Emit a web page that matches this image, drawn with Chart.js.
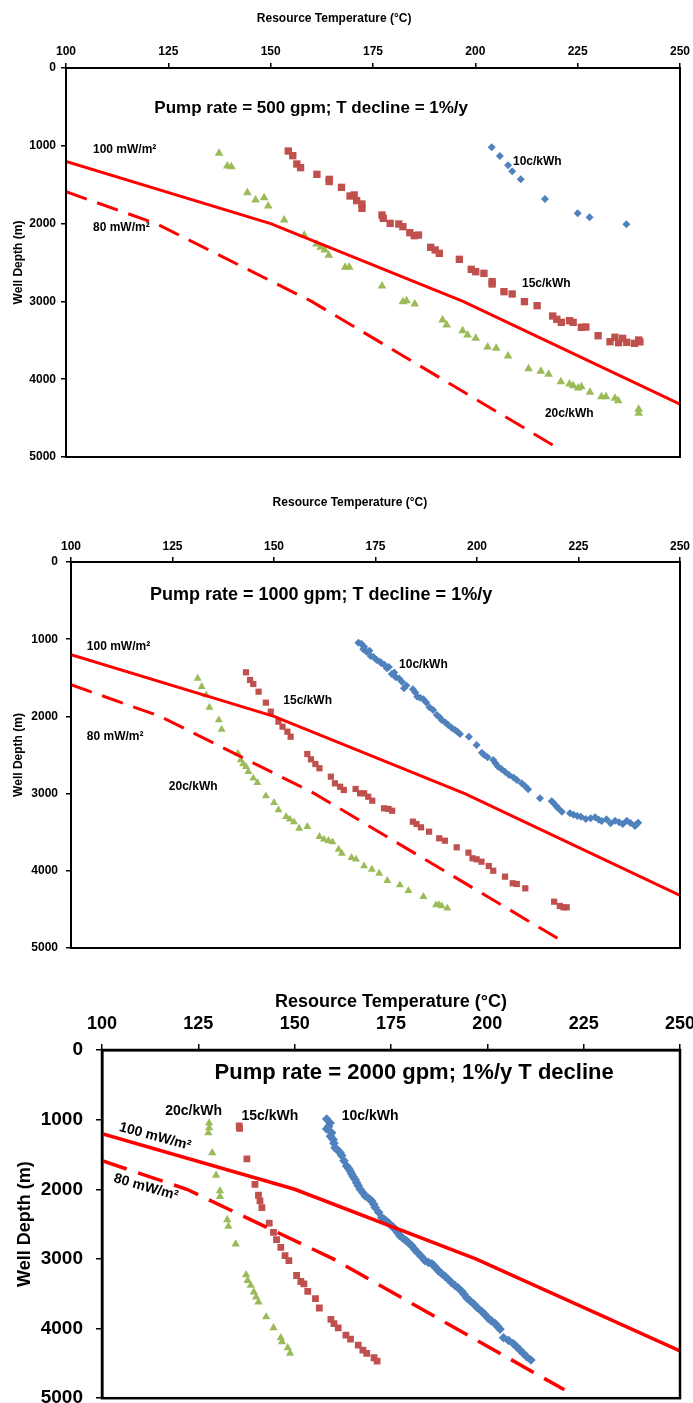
<!DOCTYPE html>
<html lang="en">
<head>
    <meta charset="UTF-8">
    <title>Well depth vs resource temperature</title>
    <script src="https://cdn.jsdelivr.net/npm/chart.js"></script>
    <style>
        body { margin: 0; background: #fff; }
        .panel { position: absolute; left: 0; width: 693px; }
    </style>
</head>
<body>
    <div class="panel" style="top:0;height:470px"><canvas id="chart500"></canvas></div>
    <div class="panel" style="top:478px;height:480px"><canvas id="chart1000"></canvas></div>
    <div class="panel" style="top:975px;height:428px"><canvas id="chart2000"></canvas></div>

    <script>
        // axes
        const tempTicks = [100, 125, 150, 175, 200, 225, 250];
        const depthTicks = [0, 1000, 2000, 3000, 4000, 5000];

        // heat flow geotherms [temperature C, depth m]
        const geotherm100 = [[100, 1200], [150, 2000], [197, 3000], [250, 4320]];
        const geotherm80 = [[100, 1590], [122, 2000], [160, 3000], [220, 4880]];

        // 500 gpm
        const gpm500_10c = [[204.0,1020],[206.0,1131],[208.0,1251],[209.0,1328],[211.1,1431],[217.0,1684],[225.0,1868],[227.9,1919],[236.9,2009]];
        const gpm500_15c = [[154.3,1067],[155.4,1127],[156.4,1234],[157.3,1281],[161.3,1367],[164.3,1431],[164.3,1460],[167.3,1534],[169.4,1645],[170.4,1632],[171.0,1705],[172.3,1748],[172.3,1804],[177.2,1890],[177.5,1932],[179.2,1997],[181.3,2005],[182.3,2040],[184.0,2117],[185.1,2155],[186.1,2147],[189.1,2305],[190.2,2339],[191.2,2382],[196.1,2459],[199.0,2588],[200.1,2618],[202.1,2639],[204.1,2746],[204.1,2776],[207.0,2875],[209.0,2905],[212.0,3003],[215.1,3055],[218.9,3188],[219.9,3230],[221.0,3269],[223.0,3248],[223.9,3269],[225.9,3333],[227.0,3329],[230.0,3441],[232.9,3518],[234.1,3461],[235.0,3531],[236.0,3475],[237.0,3526],[238.9,3539],[239.9,3496],[240.2,3520]];
        const gpm500_20c = [[137.4,1097],[139.4,1260],[140.4,1268],[144.3,1602],[146.3,1697],[148.4,1667],[149.4,1774],[153.3,1954],[158.2,2151],[161.2,2262],[162.2,2305],[163.2,2339],[164.2,2408],[168.2,2562],[169.2,2562],[177.2,2802],[182.3,3003],[183.2,2991],[185.2,3033],[192.0,3239],[193.0,3303],[196.9,3376],[198.1,3432],[200.1,3475],[203.0,3586],[205.1,3603],[208.0,3702],[213.0,3865],[216.0,3899],[217.9,3937],[220.9,4032],[223.0,4062],[223.9,4083],[225.1,4113],[225.9,4096],[228.0,4169],[230.8,4225],[231.9,4225],[234.1,4246],[234.9,4276],[239.9,4387],[239.9,4438]];

        // 1000 gpm
        const gpm1000_10c = [[170.8,1045],[171.5,1060],[172.2,1097],[172.0,1130],[172.8,1162],[173.5,1150],[173.8,1218],[174.5,1230],[175.3,1269],[176.1,1291],[176.5,1312],[177.2,1330],[177.8,1377],[178.3,1360],[179.0,1451],[179.6,1430],[180.0,1494],[180.8,1510],[181.5,1550],[182.0,1636],[182.6,1600],[184.2,1649],[184.8,1690],[185.3,1744],[186.0,1760],[186.8,1779],[187.5,1820],[188.3,1883],[189.2,1917],[190.1,1982],[190.8,2010],[191.3,2047],[192.2,2080],[192.9,2111],[193.8,2150],[194.6,2176],[195.2,2200],[195.8,2228],[198.0,2263],[199.9,2370],[201.2,2470],[201.8,2500],[202.6,2530],[204.0,2565],[204.6,2610],[205.2,2651],[206.0,2680],[206.9,2716],[207.9,2759],[209.0,2790],[209.8,2824],[211.0,2867],[211.8,2900],[212.6,2945],[215.5,3061],[218.4,3100],[218.8,3118],[219.5,3160],[220.0,3191],[220.9,3234],[222.9,3256],[223.8,3275],[224.7,3290],[225.6,3300],[226.8,3329],[228.0,3320],[229.1,3307],[230.0,3340],[230.7,3355],[231.9,3333],[232.9,3385],[234.0,3351],[235.0,3370],[235.9,3394],[236.9,3351],[237.8,3380],[238.9,3420],[239.7,3377],[239.2,3400]];
        const gpm1000_15c = [[143.1,1429],[144.1,1528],[144.9,1580],[146.2,1680],[148.0,1822],[149.2,1939],[151.1,2068],[152.1,2133],[153.3,2198],[154.1,2263],[158.2,2487],[159.1,2556],[160.2,2617],[161.2,2672],[164.0,2781],[165.0,2867],[166.3,2911],[167.2,2953],[170.1,2940],[171.2,2996],[172.2,2996],[173.2,3040],[174.2,3092],[177.1,3191],[178.2,3199],[179.1,3222],[184.2,3364],[185.1,3394],[186.2,3437],[188.2,3493],[190.7,3579],[192.1,3610],[195.0,3696],[197.9,3765],[198.9,3838],[199.9,3851],[201.1,3882],[202.9,3938],[204.0,3999],[206.9,4076],[208.8,4162],[209.8,4171],[211.9,4227],[219.0,4400],[220.4,4456],[221.3,4473],[222.1,4473]];
        const gpm1000_20c = [[131.2,1507],[132.2,1615],[133.3,1723],[134.1,1883],[136.4,2047],[137.1,2168],[141.1,2479],[141.8,2565],[142.4,2617],[143.1,2651],[143.7,2716],[144.9,2802],[145.9,2859],[148.0,3031],[150.0,3118],[151.1,3212],[153.0,3299],[153.9,3333],[154.9,3368],[156.2,3450],[158.2,3428],[161.2,3558],[162.3,3592],[163.4,3610],[164.4,3627],[165.9,3722],[166.7,3774],[169.1,3830],[170.2,3851],[172.2,3938],[174.1,3981],[175.9,4033],[177.9,4128],[181.0,4184],[183.1,4258],[186.8,4335],[189.9,4443],[190.6,4440],[191.3,4456],[192.7,4486]];

        // 2000 gpm
        const gpm2000_10c = [[158.3,990],[159.2,1048],[158.3,1133],[158.8,1100],[159.6,1190],[159.3,1240],[160.0,1286],[160.2,1340],[160.5,1405],[161.2,1440],[161.8,1476],[162.2,1514],[162.8,1590],[163.5,1667],[164.0,1700],[164.4,1738],[164.8,1780],[165.2,1819],[165.7,1860],[166.1,1905],[166.5,1950],[167.0,2000],[167.7,2050],[168.3,2095],[169.2,2130],[170.0,2167],[170.5,2215],[170.9,2262],[171.8,2330],[172.6,2405],[173.2,2430],[173.7,2452],[174.3,2480],[174.9,2514],[175.5,2540],[176.0,2571],[176.7,2620],[177.3,2667],[178.0,2700],[178.9,2738],[179.6,2770],[180.4,2810],[181.1,2860],[181.8,2905],[182.8,2960],[183.8,3024],[184.7,3050],[185.6,3071],[186.2,3100],[186.9,3143],[187.5,3180],[188.2,3214],[189.0,3250],[189.9,3295],[190.7,3340],[191.6,3381],[192.5,3420],[193.4,3467],[194.0,3510],[194.7,3562],[195.5,3600],[196.4,3643],[197.4,3700],[198.5,3752],[199.4,3800],[200.3,3857],[201.1,3890],[202.0,3929],[202.7,3970],[203.3,4010],[204.2,4133],[205.5,4170],[206.7,4214],[207.6,4260],[208.5,4310],[209.3,4355],[210.2,4405],[211.3,4452]];
        const gpm2000_15c = [[135.6,1090],[135.7,1125],[137.6,1562],[139.7,1929],[140.6,2086],[141.0,2167],[141.5,2262],[143.4,2486],[144.5,2619],[145.3,2724],[146.4,2833],[147.5,2952],[148.5,3024],[150.5,3238],[151.6,3324],[152.4,3357],[153.4,3467],[155.4,3571],[156.4,3705],[159.4,3867],[160.2,3929],[161.3,3990],[163.3,4095],[164.5,4152],[166.5,4238],[167.7,4310],[168.7,4357],[170.6,4419],[171.4,4467]];
        const gpm2000_20c = [[127.8,1048],[127.8,1119],[127.6,1190],[128.6,1476],[129.6,1800],[130.6,2024],[130.6,2105],[132.5,2438],[132.8,2533],[134.7,2786],[137.4,3229],[137.8,3310],[138.6,3381],[139.4,3476],[140.0,3548],[140.6,3619],[142.6,3833],[144.5,3990],[146.4,4133],[146.7,4190],[148.2,4276],[148.8,4357]];

        const FONT = "'Liberation Sans', Arial, sans-serif";
        const BLUE = '#4F81BD', RED = '#C0504D', GREEN = '#9BBB59', LINE = '#FF0000';
        const X_TITLE = 'Resource Temperature (\u00B0C)';

        const toXY = arr => arr.map(p => ({x: p[0], y: p[1]}));

        // plot frame + text notes placed in data coordinates
        const framePlugin = {
            id: 'frame',
            afterDraw(chart, args, opts) {
                const {ctx, chartArea: a, scales: {x, y}} = chart;
                ctx.save();
                ctx.strokeStyle = '#000';
                ctx.lineWidth = opts.lineWidth;
                ctx.strokeRect(a.left, a.top, a.right - a.left, a.bottom - a.top);
                ctx.fillStyle = '#000';
                ctx.textBaseline = 'middle';
                opts.notes.forEach(n => {
                    ctx.save();
                    ctx.font = n.font;
                    ctx.textAlign = n.align || 'left';
                    ctx.translate(x.getPixelForValue(n.t), y.getPixelForValue(n.d));
                    ctx.rotate((n.angle || 0) * Math.PI / 180);
                    ctx.fillText(n.text, 0, 0);
                    ctx.restore();
                });
                ctx.restore();
            }
        };

        function makeChart(id, s) {
            const tickFont = {family: FONT, size: s.tick, weight: 'bold'};
            const titleFont = {family: FONT, size: s.axisTitle, weight: 'bold'};
            const plain = v => String(v);
            const marker = (data, style, color, r) => ({
                data: toXY(data), pointStyle: style, pointRadius: r, pointHoverRadius: r,
                backgroundColor: color, borderWidth: 0, showLine: false, order: 2
            });
            const geo = (data, dash) => ({
                data: toXY(data), showLine: true, pointRadius: 0, borderColor: LINE,
                borderWidth: s.lineW, borderDash: dash, fill: false, order: 1
            });
            new Chart(document.getElementById(id), {
                type: 'scatter',
                data: {
                    datasets: [
                        geo(geotherm100, []),
                        geo(geotherm80, s.dash),
                        marker(s.data[0], 'rectRot', BLUE, s.r[0]),
                        marker(s.data[1], 'rect', RED, s.r[1]),
                        marker(s.data[2], 'triangle', GREEN, s.r[2])
                    ]
                },
                options: {
                    responsive: true,
                    maintainAspectRatio: false,
                    animation: false,
                    layout: {padding: {left: 0, top: 0, right: 13, bottom: s.padBottom}},
                    scales: {
                        x: {
                            type: 'linear', position: 'top',
                            min: tempTicks[0], max: tempTicks[tempTicks.length - 1],
                            ticks: {stepSize: 25, color: '#000', font: tickFont, padding: s.xTickPad, maxRotation: 0, callback: plain},
                            grid: {drawOnChartArea: false, drawTicks: true, tickLength: s.tickLen, color: '#000', lineWidth: 1.5},
                            border: {display: true, color: '#000', width: s.frame},
                            title: {display: !s.ownXTitle, text: X_TITLE, color: '#000', font: titleFont, padding: {top: s.xTitlePad, bottom: 0}},
                            afterFit(sc) { sc.height = s.xHeight; sc.paddingLeft = 0; sc.paddingRight = 0; }
                        },
                        y: {
                            type: 'linear', position: 'left', reverse: true,
                            min: depthTicks[0], max: depthTicks[depthTicks.length - 1],
                            ticks: {stepSize: 1000, color: '#000', font: {family: FONT, size: s.yTick, weight: 'bold'}, padding: s.yTickPad, callback: plain},
                            grid: {drawOnChartArea: false, drawTicks: true, tickLength: s.tickLen, color: '#000', lineWidth: 1.5},
                            border: {display: true, color: '#000', width: s.frame},
                            title: {display: true, text: 'Well Depth (m)', color: '#000', font: titleFont, padding: {top: s.yTitlePad, bottom: 0}},
                            afterFit(sc) { sc.width = s.yWidth; sc.paddingTop = 0; sc.paddingBottom = 0; }
                        }
                    },
                    plugins: {
                        legend: {display: false},
                        tooltip: {enabled: false},
                        frame: {lineWidth: s.frame, notes: s.notes}
                    }
                },
                plugins: [framePlugin]
            });
        }

        const small = 'bold 12px ' + FONT;
        const mid = 'bold 14px ' + FONT;

        // the two upper panels have their axis title set left of centre
        makeChart('chart500', {
            data: [gpm500_10c, gpm500_15c, gpm500_20c], r: [4, 5.2, 5],
            tick: 12, yTick: 12, axisTitle: 12, tickLen: 5, frame: 2, lineW: 3, dash: [22, 11],
            xHeight: 68, yWidth: 66, padBottom: 13, xTickPad: 4, xTitlePad: 12, yTickPad: 5, yTitlePad: 11,
            ownXTitle: true,
            notes: [
                {text: X_TITLE, t: 165.5, d: -630, font: small, align: 'center'},
                {text: 'Pump rate = 500 gpm; T decline = 1%/y', t: 159.9, d: 514, font: 'bold 17px ' + FONT, align: 'center'},
                {text: '100 mW/m\u00B2', t: 106.6, d: 1054, font: small},
                {text: '80 mW/m\u00B2', t: 106.6, d: 2057, font: small},
                {text: '10c/kWh', t: 209.2, d: 1208, font: small},
                {text: '15c/kWh', t: 211.4, d: 2776, font: small},
                {text: '20c/kWh', t: 217.0, d: 4447, font: small}
            ]
        });

        makeChart('chart1000', {
            data: [gpm1000_10c, gpm1000_15c, gpm1000_20c], r: [4, 4.4, 4.6],
            tick: 12, yTick: 12, axisTitle: 12, tickLen: 5, frame: 2, lineW: 3, dash: [22, 11],
            xHeight: 84, yWidth: 71, padBottom: 10, xTickPad: 3, xTitlePad: 18, yTickPad: 8, yTitlePad: 11,
            ownXTitle: true,
            notes: [
                {text: X_TITLE, t: 168.7, d: -764, font: small, align: 'center'},
                {text: 'Pump rate = 1000 gpm; T decline = 1%/y', t: 161.6, d: 427, font: 'bold 18px ' + FONT, align: 'center'},
                {text: '100 mW/m\u00B2', t: 103.9, d: 1101, font: small},
                {text: '80 mW/m\u00B2', t: 103.9, d: 2267, font: small},
                {text: '10c/kWh', t: 180.8, d: 1334, font: small},
                {text: '15c/kWh', t: 152.3, d: 1800, font: small},
                {text: '20c/kWh', t: 124.1, d: 2910, font: small}
            ]
        });

        makeChart('chart2000', {
            data: [gpm2000_10c, gpm2000_15c, gpm2000_20c], r: [4.8, 4.8, 4.8],
            tick: 18, yTick: 19, axisTitle: 18, tickLen: 6, frame: 2.5, lineW: 3.5, dash: [26, 12],
            xHeight: 75, yWidth: 102, padBottom: 3, xTickPad: 9, xTitlePad: 16, yTickPad: 13, yTitlePad: 14,
            notes: [
                {text: 'Pump rate = 2000 gpm; 1%/y T decline', t: 181, d: 329, font: 'bold 22px ' + FONT, align: 'center'},
                {text: '20c/kWh', t: 116.4, d: 871, font: mid},
                {text: '15c/kWh', t: 136.2, d: 952, font: mid},
                {text: '10c/kWh', t: 162.2, d: 952, font: mid},
                {text: '100 mW/m\u00B2', t: 113.8, d: 1243, font: mid, align: 'center', angle: 15},
                {text: '80 mW/m\u00B2', t: 111.4, d: 1971, font: mid, align: 'center', angle: 16}
            ]
        });
    </script>
</body>
</html>
